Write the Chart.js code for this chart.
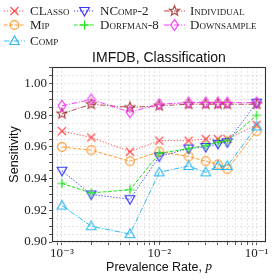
<!DOCTYPE html>
<html><head><meta charset="utf-8">
<script src="https://cdn.jsdelivr.net/npm/chart.js@4/dist/chart.umd.min.js"></script>
<style>
html,body{margin:0;padding:0;background:#fff;}
#wrap{position:relative;width:274px;height:280px;}
#legend{position:absolute;left:0;top:0;width:274px;height:50px;}
.item{position:absolute;height:14px;display:flex;align-items:center;font-family:'Liberation Serif','DejaVu Serif',serif;font-variant:small-caps;font-size:13px;color:#222;white-space:nowrap;}
.item svg{display:block;margin-right:5px;}
</style></head><body>
<div id="wrap"><canvas id="c" width="274" height="280"></canvas><div id="legend"></div></div>
<script>
// ---- data ----
const prevalence = [0.001, 0.002, 0.005, 0.01, 0.02, 0.03, 0.04, 0.05, 0.1];
const seriesNames = ['CLasso', 'Mip', 'Comp', 'NComp-2', 'Dorfman-8', 'Individual', 'Downsample'];
const classo     = [0.970, 0.966, 0.957, 0.964, 0.964, 0.965, 0.965, 0.965, 0.974];
const mip        = [0.960, 0.958, 0.951, 0.957, 0.954, 0.951, 0.949, 0.946, 0.970];
const comp       = [0.923, 0.910, 0.905, 0.944, 0.948, 0.944, 0.948, 0.948, 0.973];
const ncomp2     = [0.945, 0.930, 0.927, 0.954, 0.959, 0.960, 0.962, 0.963, 0.988];
const dorfman8   = [0.937, 0.931, 0.933, 0.956, 0.959, 0.961, 0.963, 0.964, 0.980];
const individual = [0.981, 0.987, 0.985, 0.986, 0.987, 0.987, 0.987, 0.987, 0.987];
const downsample = [0.986, 0.990, 0.982, 0.987, 0.988, 0.988, 0.988, 0.988, 0.988];
const yTickValues = [0.90, 0.92, 0.94, 0.96, 0.98, 1.00];
const xTickLabels = {'-3': '10\u207B\u00B3', '-2': '10\u207B\u00B2', '-1': '10\u207B\u00B9'};
const titleText = 'IMFDB, Classification';
const yTitle = 'Sensitivity';
const xTitle = 'Prevalence Rate, ';
const xTitleVar = 'p';

// ---- styles ----
const DOT = [1.2, 1.8], DASH = [3.7, 1.6], DASHDOT = [5.5, 1.6, 1.2, 1.6];
const styles = [
  {color: 'rgba(255,60,60,0.9)',  marker: 'x',     dash: DOT},
  {color: 'rgba(255,145,30,0.9)', marker: 'o',     dash: DASH},
  {color: 'rgba(30,180,245,0.9)', marker: '^',     dash: DASHDOT},
  {color: 'rgba(35,35,255,0.9)',  marker: 'v',     dash: DOT},
  {color: 'rgba(20,225,20,0.95)', marker: '+',     dash: DASH},
  {color: 'rgba(165,45,45,0.85)', marker: '*',     dash: DASHDOT},
  {color: 'rgba(245,40,245,0.9)', marker: 'd',     dash: DASHDOT},
];
const values = [classo, mip, comp, ncomp2, dorfman8, individual, downsample];

function drawMarker(ctx, m, x, y, color) {
  ctx.save();
  ctx.strokeStyle = color; ctx.lineWidth = 1.2; ctx.setLineDash([]);
  ctx.beginPath();
  if (m === 'x') { const r = 4; ctx.moveTo(x-r,y-r); ctx.lineTo(x+r,y+r); ctx.moveTo(x+r,y-r); ctx.lineTo(x-r,y+r); }
  else if (m === '+') { const r = 4.6; ctx.moveTo(x-r,y); ctx.lineTo(x+r,y); ctx.moveTo(x,y-r); ctx.lineTo(x,y+r); }
  else if (m === 'o') { ctx.arc(x,y,4.3,0,Math.PI*2); }
  else if (m === '^') { ctx.moveTo(x,y-5); ctx.lineTo(x+4.8,y+3.5); ctx.lineTo(x-4.8,y+3.5); ctx.closePath(); }
  else if (m === 'v') { ctx.moveTo(x,y+5); ctx.lineTo(x+4.8,y-3.5); ctx.lineTo(x-4.8,y-3.5); ctx.closePath(); }
  else if (m === 'd') { ctx.moveTo(x,y-5.5); ctx.lineTo(x+3.8,y); ctx.lineTo(x,y+5.5); ctx.lineTo(x-3.8,y); ctx.closePath(); }
  else if (m === '*') {
    for (let i = 0; i < 10; i++) {
      const r = i % 2 ? 2.3 : 5.3; const a = -Math.PI/2 + i*Math.PI/5;
      const px = x + r*Math.cos(a), py = y + r*Math.sin(a);
      i ? ctx.lineTo(px,py) : ctx.moveTo(px,py);
    }
    ctx.closePath();
  }
  ctx.stroke();
  ctx.restore();
}
function markerCanvas(m, color) {
  const c = document.createElement('canvas'); c.width = 14; c.height = 14;
  drawMarker(c.getContext('2d'), m, 7, 7, color);
  return c;
}

const datasets = seriesNames.map((name, i) => ({
  label: name,
  data: values[i],
  borderColor: styles[i].color,
  borderWidth: 1,
  borderDash: styles[i].dash,
  pointStyle: markerCanvas(styles[i].marker, styles[i].color),
  pointRadius: 7,
  pointHoverRadius: 7,
  fill: false,
  tension: 0,
  order: seriesNames.length - i
}));

// ---- legend (HTML) ----
const legendPos = [
  [4, 4], [4, 18], [4, 34],
  [74, 4], [74, 18],
  [164, 4], [164, 18]
];
const legendEl = document.getElementById('legend');
seriesNames.forEach((name, i) => {
  const div = document.createElement('div');
  div.className = 'item';
  div.style.left = legendPos[i][0] + 'px';
  div.style.top = legendPos[i][1] + 'px';
  const c = document.createElement('canvas'); c.width = 21; c.height = 14;
  const ctx = c.getContext('2d');
  ctx.strokeStyle = styles[i].color; ctx.lineWidth = 1; ctx.setLineDash(styles[i].dash);
  ctx.beginPath(); ctx.moveTo(0, 7); ctx.lineTo(21, 7); ctx.stroke();
  drawMarker(ctx, styles[i].marker, 10.5, 7, styles[i].color);
  c.style.marginRight = '5px';
  div.appendChild(c);
  const sp = document.createElement('span'); sp.textContent = name;
  div.appendChild(sp);
  legendEl.appendChild(div);
});

const SERIF = "'Liberation Serif','DejaVu Serif',serif";
const SANS = "'Liberation Sans','DejaVu Sans',sans-serif";

const decor = {
  id: 'decor',
  afterDraw(chart) {
    const {ctx, chartArea: a} = chart;
    ctx.save();
    ctx.strokeStyle = '#333'; ctx.lineWidth = 1.1; ctx.setLineDash([]);
    ctx.strokeRect(a.left + 0.5, a.top + 0.5, a.right - a.left - 1, a.bottom - a.top - 1);
    ctx.fillStyle = '#111';
    ctx.textAlign = 'center'; ctx.textBaseline = 'middle';
    ctx.font = '14px ' + SANS;
    ctx.fillText(titleText, (a.left + a.right) / 2, 58);
    ctx.font = '12.5px ' + SANS;
    const w1 = ctx.measureText(xTitle).width;
    ctx.font = 'italic 13px ' + SERIF;
    const w2 = ctx.measureText(xTitleVar).width;
    const cx = (a.left + a.right) / 2, x0 = cx - (w1 + w2) / 2;
    ctx.textAlign = 'left';
    ctx.font = '12.5px ' + SANS;
    ctx.fillText(xTitle, x0, 268);
    ctx.font = 'italic 13px ' + SERIF;
    ctx.fillText(xTitleVar, x0 + w1, 267);
    ctx.translate(15, (a.top + a.bottom) / 2);
    ctx.rotate(-Math.PI / 2);
    ctx.textAlign = 'center';
    ctx.font = '12.5px ' + SANS;
    ctx.fillText(yTitle, 0, 0);
    ctx.restore();
  }
};

const isMajorY = v => yTickValues.some(t => Math.abs(t - v) < 1e-6);

new Chart(document.getElementById('c'), {
  type: 'line',
  data: {labels: prevalence, datasets: datasets.map(d => ({...d, data: d.data.map((v, j) => ({x: prevalence[j], y: v}))}))},
  options: {
    responsive: false,
    animation: false,
    events: [],
    layout: {padding: {top: 67, right: 8, left: 0, bottom: 0}},
    plugins: {legend: {display: false}, tooltip: {enabled: false}, title: {display: false}},
    scales: {
      x: {
        type: 'logarithmic', min: 0.00079, max: 0.1248,
        afterBuildTicks: s => {
          s.ticks = s.ticks.filter(t => {
            const e = Math.floor(Math.log10(t.value) + 1e-9);
            const m = t.value / Math.pow(10, e);
            return Math.abs(m - Math.round(m)) < 1e-6;
          });
        },
        afterFit: s => { s.height = 38; },
        grid: {color: '#dedede', lineWidth: 0.8, tickLength: 3, tickColor: '#444', tickWidth: 0.9},
        border: {display: false, dash: [2, 2]},
        ticks: {
          autoSkip: false, maxRotation: 0, minRotation: 0, padding: 1,
          color: '#222', font: {family: SERIF, size: 13},
          callback: v => {
            const e = Math.log10(v);
            if (Math.abs(e - Math.round(e)) < 1e-6) return xTickLabels[String(Math.round(e))] || '';
            return '';
          }
        }
      },
      y: {
        min: 0.90, max: 1.0105,
        afterFit: s => { s.width = 52; },
        grid: {color: '#dedede', lineWidth: 0.8, tickLength: 3, tickColor: '#444', tickWidth: 0.9},
        border: {display: false, dash: [2, 2]},
        ticks: {
          stepSize: 0.005, autoSkip: false, padding: 2,
          color: '#222', font: {family: SERIF, size: 13},
          callback: v => isMajorY(v) ? v.toFixed(2) : ''
        }
      }
    }
  },
  plugins: [decor]
});
</script>
</body></html>
